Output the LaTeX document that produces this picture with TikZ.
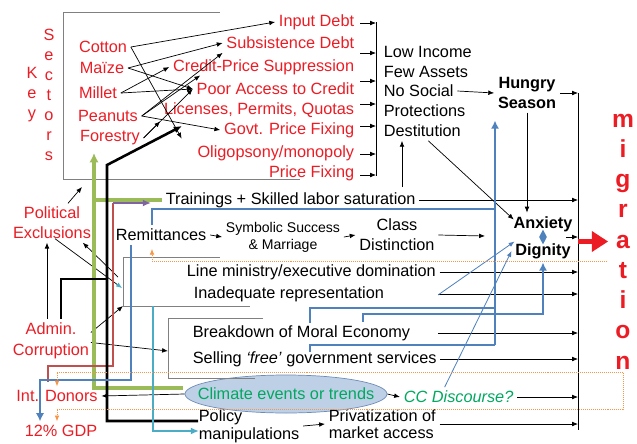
\documentclass[tikz,border=0pt]{standalone}
\usepackage{fontspec}
\setmainfont{Liberation Sans}
\usepackage{tikz}
\usetikzlibrary{calc,arrows.meta,shapes.geometric}
\definecolor{txtred}{RGB}{236,28,36}
\definecolor{lnblue}{RGB}{79,129,189}
\definecolor{lngreen}{RGB}{155,187,89}
\definecolor{lnred}{RGB}{192,80,77}
\definecolor{lnpurple}{RGB}{128,100,162}
\definecolor{lncyan}{RGB}{75,172,198}
\definecolor{lnorange}{RGB}{247,150,70}
\definecolor{ccgreen}{RGB}{0,168,96}
\definecolor{ellfill}{RGB}{190,208,230}
\definecolor{ellline}{RGB}{110,140,185}

\begin{document}
\begin{tikzpicture}[x=0.03cm,y=-0.03cm,line width=0.6pt,
    every node/.style={font=\fontsize{13.9}{16.8}\selectfont,inner sep=3pt},
    >={Latex[length=5pt,width=4pt]},
    redtxt/.style={text=txtred},
    boldtxt/.style={font=\fontsize{13.9}{17}\selectfont\bfseries},
    grybox/.style={draw=gray,line width=0.7pt},
    blu/.style={draw=lnblue,line width=2.4pt,>={Latex[length=7pt,width=7pt]}},
    thinblu/.style={draw=lnblue,line width=0.7pt},
    grn/.style={draw=lngreen,line width=2.8pt,>={Latex[length=8pt,width=8pt]}},
    blk/.style={draw=black,line width=2.2pt,>={Latex[length=7pt,width=6pt]}},
    rdl/.style={draw=lnred,line width=1.8pt},
    purp/.style={draw=lnpurple,line width=1.8pt,>={Latex[length=7pt,width=6pt]}},
    cyn/.style={draw=lncyan,line width=2.2pt,>={Latex[length=7pt,width=6pt]}},
    org/.style={draw=lnorange,line width=0.7pt,densely dotted},
    bigred/.style={draw=txtred,line width=4.5pt,-{Triangle[length=14pt,width=17pt]}}]
  \useasboundingbox (0,0) rectangle (637,443);

  % key sectors
  \draw[grybox] (220,12) -- (63,12) -- (63,179) -- (300,179);
  \node (key) at (32,95) [redtxt,align=center,font=\fontsize{13.9}{17.1}\selectfont] {K\\e\\y};
  \node (sectors) at (49,95) [redtxt,align=center,font=\fontsize{13.9}{17.1}\selectfont] {S\\e\\c\\t\\o\\r\\s};
  \node (cotton) at (103,47) [redtxt] {Cotton};
  \node (maize) at (102,68) [redtxt] {Maïze};
  \node (millet) at (98,93) [redtxt] {Millet};
  \node (peanuts) at (108,116) [redtxt] {Peanuts};
  \node (forestry) at (110,138) [redtxt] {Forestry};

  \node (indebt) at (358,22) [redtxt,anchor=east] {Input Debt};
  \node (subdebt) at (358,43) [redtxt,anchor=east] {Subsistence Debt};
  \node (credit) at (358,67) [redtxt,anchor=east] {Credit-Price Suppression};
  \node (poor) at (358,89) [redtxt,anchor=east] {Poor Access to Credit};
  \node (licen) at (358,110) [redtxt,anchor=east] {Licenses, Permits, Quotas};
  \node (govfix) at (358,130) [redtxt,anchor=east] {Govt. Price Fixing};
  \node (oligo) at (358,153) [redtxt,anchor=east] {Oligopsony/monopoly};
  \node (pfix) at (358,173) [redtxt,anchor=east] {Price Fixing};

  \draw[->] (cotton.east) -- (indebt.west);
  \draw[->] (cotton.east) -- ($(oligo.north west)+(-12,-3)$);
  \draw[->] (maize.east) -- (subdebt.west);
  \draw[->] (maize.east) -- (poor.west);
  \draw[->] (millet.east) -- (credit.west);
  \draw[->] (millet.east) -- (poor.west);
  \draw[->] (peanuts.east) -- (subdebt.south west);
  \draw[->] (peanuts.east) -- ($(credit.south west)+(31,-3)$);
  \draw[->] (peanuts.east) -- (govfix.west);
  \draw[->] (forestry.east) -- (licen.south west);
  \draw[->] (forestry.east) -- (poor.west);

  % bracket into low income
  \coordinate (lbtop) at (376,22);
  \coordinate (lbbot) at (376,176);
  \draw (lbtop) -- (lbbot);
  \foreach \y in {23,53,81,104,126,154,175}
    \draw[->] (360,\y) -- (lbtop |- 0,\y);

  \node (low1) at (380,52) [anchor=west] {Low Income};
  \node (low2) at (380,72) [anchor=west] {Few Assets};
  \node (low3) at (380,91) [anchor=west] {No Social};
  \node (low4) at (380,111) [anchor=west] {Protections};
  \node (low5) at (380,131) [anchor=west] {Destitution};
  \coordinate (dst) at (402,187);
  \draw[->] (dst) -- (dst |- low5.south);

  \node (hungry) at (527,93) [boldtxt,align=center] {Hungry\\Season};
  \draw[->] (low3.east) -- (hungry.west);

  \node (anx) at (543,224) [boldtxt] {Anxiety};
  \node (dig) at (543,251) [boldtxt] {Dignity};
  \node (dmd) at (543,237) [diamond,fill=lnblue,inner sep=0pt,minimum width=0.24cm,minimum height=0.45cm] {};
  \draw[->] (hungry.south) -- (hungry.south |- anx.north);
  \draw[->] ($(low5.south)+(6,0)$) -- ($(anx.north west)+(4,7)$);

  % right bracket and migration
  \coordinate (rbtop) at (578,93);
  \coordinate (rbbot) at (578,430);
  \draw (rbtop) -- (rbbot);
  \draw[->] (hungry.east) -- (hungry.east -| rbtop);
  \coordinate (ax) at (566,237);
  \draw[->] (ax) -- (ax -| rbtop);
  \node (mig) at (623,241.5) [redtxt,align=center,font=\fontsize{21}{25.8}\selectfont\bfseries] {m\\i\\g\\r\\a\\t\\i\\o\\n};
  \draw[bigred] (mig.west -| rbtop) -- (mig.west);

  % middle rows
  \node (train) at (162,200) [anchor=west] {Trainings + Skilled labor saturation};
  \node (remit) at (112,235) [anchor=west] {Remittances};
  \node (symb) at (283,237) [align=center,font=\fontsize{12}{14.5}\selectfont] {Symbolic Success\\\& Marriage};
  \node (class) at (397,235) [align=center,font=\fontsize{13.9}{17}\selectfont] {Class\\Distinction};
  \node (linemin) at (183,272) [anchor=west] {Line ministry/executive domination};
  \node (inadq) at (190,294) [anchor=west] {Inadequate representation};
  \node (moral) at (189,333) [anchor=west] {Breakdown of Moral Economy};
  \node (selling) at (189,359) [anchor=west] {Selling \textit{‘free’} government services};
  \node (climate) at (286,394) [ellipse,draw=ellline,fill=ellfill,inner sep=0pt,minimum width=6.06cm,minimum height=1.14cm] {};
  \node (cltxt) at (climate) [text=ccgreen] {Climate events or trends};
  \node (ccd) at (400,397) [anchor=west,text=ccgreen,font=\fontsize{13.9}{16.8}\selectfont\itshape] {CC Discourse?};
  \node (policy) at (195,426) [anchor=west,align=left,font=\fontsize{13.9}{15}\selectfont] {Policy\\manipulations};
  \node (priv) at (325,424) [anchor=west,align=left,font=\fontsize{13.9}{15}\selectfont] {Privatization of\\market access};

  \coordinate (inq) at (438,295);
  \draw[->] (train.east) -- (train.east -| rbtop);
  \draw[->] (remit.east) -- (symb.west);
  \draw[->] (symb.east) -- (class.west);
  \coordinate (cls) at (485,236);
  \draw[->] (class.east) -- (cls);
  \draw[->] (linemin.east) -- (linemin.east -| rbtop);
  \draw[->] (inadq.east -| inq) -- (inadq.east -| rbtop);
  \draw[->] (moral.east -| inq) -- (moral.east -| rbtop);
  \draw[->] (selling.east) -- (selling.east -| rbtop);
  \draw[->] (climate.east) -- (ccd.west);
  \draw[->] (ccd.east) -- (ccd.east -| rbtop);
  \draw[->] (policy.east) -- (priv.west);
  \draw[->] (priv.east) -- (priv.east -| rbtop);
  \draw[thinblu,->] (inq) -- ($(dig.north west)+(3,2)$);
  \draw[thinblu,->] ($(ccd.north)+(-14,0)$) -- (dig.west);

  % left labels
  \node (pol) at (52,223) [redtxt,align=center] {Political\\Exclusions};
  \node (admin) at (51,340.5) [redtxt,align=center,font=\fontsize{13.9}{17.8}\selectfont] {Admin.\\Corruption};
  \node (donors) at (57,396) [redtxt] {Int. Donors};
  \node (gdp) at (61,431) [redtxt] {12\% GDP};
  \draw[->] (climate.west) -- (donors.east);

  % open boxes
  \coordinate (b1a) at (220,257); \coordinate (b1b) at (123,257);
  \coordinate (b1c) at (123,306); \coordinate (b1d) at (250,306);
  \draw[grybox] (b1a) -- (b1b) -- (b1c) -- (b1d);
  \coordinate (b2a) at (263,318); \coordinate (b2b) at (168,318);
  \coordinate (b2c) at (168,378); \coordinate (b2d) at (255,378);
  \draw[grybox] (b2a) -- (b2b) -- (b2c) -- (b2d);

  \coordinate (pb) at (82,187);
  \coordinate (pc) at (122,288);
  \coordinate (pd) at (118,277);
  \draw[->] ($(pol.north)+(16,0)$) -- (pb);
  \draw[-{Latex[length=5pt,width=4pt,color=lncyan]}] ($(pol.south)+(3,-4)$) -- (pc);
  \draw[->] (pd) -- ($(pol.south east)+(-12,0)$);
  \draw[->] ($(admin.east)+(-2,-8)$) -- (b1c);
  \draw[->] ($(admin.east)+(-2,2)$) -- ($(b2b)!0.55!(b2c)$);
  \draw[->] ($(admin.north)+(-4,0)$) -- ($(pol.south)+(-5,0)$);

  % coloured feedback lines
  \coordinate (gtip) at (94,153);
  \draw[grn,->] ($(climate.west)+(-2,-6)$) -| (gtip);
  \draw[grn] (train.west -| gtip) -- (train.west);
  \coordinate (rdtop) at (113,203);
  \coordinate (rdend) at (48,382);
  \draw[rdl] (rdtop) -- (rdtop |- 0,366) -| (rdend);
  \draw[purp,->] (rdtop) -- ($(train.west)+(-11,3)$);
  \coordinate (bk1) at (107,165);
  \coordinate (bk2) at (182,126);
  \coordinate (bk3) at (107,279);
  \draw[blk,->] ($(policy.west)+(3,-5)$) -| (bk1) -- (bk2);
  \draw[blk] ($(admin.north)+(10,0)$) |- (bk3);
  \coordinate (cy) at (153,306);
  \draw[cyn,->] (cy) |- ($(policy.west)+(4,5)$);

  \coordinate (bgd) at (40,380);
  \draw[blu,->] ($(remit.south west)+(19,0)$) |- (bgd) -- (bgd |- gdp.north);
  \coordinate (bv) at (495,209);
  \coordinate (bvb) at (495,345);
  \draw[blu] ($(remit.north west)+(40,0)$) |- (bv);
  \draw[blu,->] (bvb) -- ($(bv |- hungry.south)+(0,8)$);
  \coordinate (bs1) at (310,323);
  \coordinate (bs2) at (310,352);
  \coordinate (bs3) at (363,322);
  \draw[blu] (bs1) |- (bv |- 0,308);
  \draw[blu] (bs2) |- (bvb);
  \draw[blu,->] (bs3) |- (dig.south |- 0,314) -- (dig.south);

  \coordinate (o1) at (607,261);
  \draw[org,->] (o1) -| ($(remit.south west)+(40,4)$);
  \draw[org,->] (mig.south) -| (donors.north);
  \draw[org,->] (mig.south) -- (mig.south |- 0,409) -| (donors.north |- gdp.north);
\end{tikzpicture}
\end{document}
